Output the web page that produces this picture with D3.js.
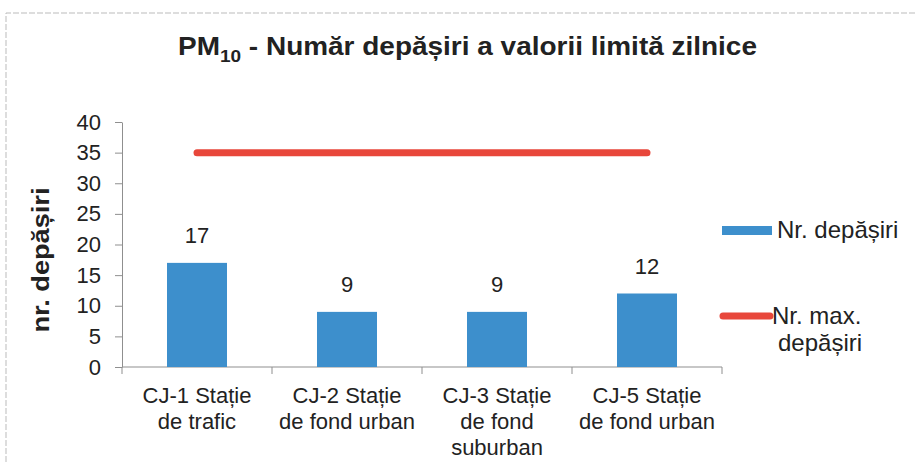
<!DOCTYPE html>
<html lang="ro">
  <head>
    <meta charset="UTF-8" />
    <title>PM10 - Număr depășiri</title>
    <script src="https://d3js.org/d3.v7.min.js"></script>
    <style>
      body {
        margin: 0;
        background: #fff;
        font-family: "Liberation Sans", Arial, sans-serif;
      }
      svg {
        display: block;
      }
      .axis path,
      .axis line {
        stroke: #8f8f8f;
      }
      .axis text {
        font-size: 22px;
        fill: #222;
        font-family: "Liberation Sans", Arial, sans-serif;
      }
    </style>
  </head>
  <body>
    <svg id="chart" width="915" height="462"></svg>

    <script>
      // data
      const stations = [
        ["CJ-1 Stație", "de trafic"],
        ["CJ-2 Stație", "de fond urban"],
        ["CJ-3 Stație", "de fond", "suburban"],
        ["CJ-5 Stație", "de fond urban"],
      ];
      const exceedances = [17, 9, 9, 12];
      const maxAllowed = [35, 35, 35, 35];
      const yTicks = [0, 5, 10, 15, 20, 25, 30, 35, 40];

      const barColor = "#3d8fcc";
      const lineColor = "#e8473b";

      const svg = d3.select("#chart");

      // page frame of the scan
      svg
        .append("path")
        .attr("d", "M6,462 V13 H915")
        .attr("fill", "none")
        .attr("stroke", "#bbb")
        .attr("stroke-width", 1)
        .attr("stroke-dasharray", "6,2");

      const plotLeft = 122,
        plotRight = 722,
        plotTop = 122,
        plotBottom = 367;

      const x = d3
        .scaleBand()
        .domain(d3.range(stations.length))
        .range([plotLeft, plotRight])
        .paddingInner(0.6)
        .paddingOuter(0.3);

      const xOuter = d3
        .scaleBand()
        .domain(d3.range(stations.length))
        .range([plotLeft, plotRight]);

      const y = d3.scaleLinear().domain([0, 40]).range([plotBottom, plotTop]);

      // title
      const title = svg
        .append("text")
        .attr("x", 178)
        .attr("y", 55)
        .attr("font-size", 25)
        .attr("font-weight", "bold")
        .attr("fill", "#222")
        .attr("textLength", 579)
        .attr("lengthAdjust", "spacingAndGlyphs");
      title.append("tspan").text("PM");
      title
        .append("tspan")
        .attr("font-size", 17)
        .attr("dy", 7)
        .text("10");
      title
        .append("tspan")
        .attr("dy", -7)
        .text(" - Număr depășiri a valorii limită zilnice");

      // y axis
      svg
        .append("g")
        .attr("class", "axis")
        .attr("transform", `translate(${plotLeft},0)`)
        .call(
          d3
            .axisLeft(y)
            .tickValues(yTicks)
            .tickSize(7)
            .tickPadding(14)
            .tickSizeOuter(0)
        );

      // x axis with ticks at category boundaries
      const xAxis = svg
        .append("g")
        .attr("class", "axis")
        .attr("transform", `translate(0,${plotBottom})`);
      xAxis
        .append("line")
        .attr("x1", plotLeft)
        .attr("x2", plotRight)
        .attr("stroke", "#8f8f8f");
      const bounds = d3.range(stations.length + 1).map((i) =>
        i < stations.length ? xOuter(i) : xOuter(i - 1) + xOuter.bandwidth()
      );
      xAxis
        .selectAll(".bt")
        .data(bounds)
        .join("line")
        .attr("x1", (d) => d)
        .attr("x2", (d) => d)
        .attr("y1", 0)
        .attr("y2", 7)
        .attr("stroke", "#8f8f8f");

      // category labels
      svg
        .selectAll(".cat")
        .data(stations)
        .join("text")
        .attr("class", "cat")
        .attr("text-anchor", "middle")
        .attr("font-size", 22)
        .attr("fill", "#222")
        .each(function (lines, i) {
          const t = d3.select(this);
          lines.forEach((l, j) => {
            t.append("tspan")
              .attr("x", xOuter(i) + xOuter.bandwidth() / 2)
              .attr("y", plotBottom + 36 + j * 26)
              .text(l);
          });
        });

      // y axis title
      svg
        .append("text")
        .attr("transform", `translate(41,260) rotate(-90)`)
        .attr("text-anchor", "middle")
        .attr("dy", "0.35em")
        .attr("font-size", 23)
        .attr("font-weight", "bold")
        .attr("fill", "#222")
        .attr("textLength", 145)
        .attr("lengthAdjust", "spacingAndGlyphs")
        .text("nr. depășiri");

      // bars
      svg
        .selectAll(".bar")
        .data(exceedances)
        .join("rect")
        .attr("class", "bar")
        .attr("x", (d, i) => x(i))
        .attr("width", x.bandwidth())
        .attr("y", (d) => y(d))
        .attr("height", (d) => y(0) - y(d))
        .attr("fill", barColor);

      svg
        .selectAll(".val")
        .data(exceedances)
        .join("text")
        .attr("class", "val")
        .attr("x", (d, i) => x(i) + x.bandwidth() / 2)
        .attr("y", (d) => y(d) - 20)
        .attr("text-anchor", "middle")
        .attr("font-size", 22)
        .attr("fill", "#222")
        .text((d) => d);

      // limit line through the category centres
      const line = d3
        .line()
        .x((d, i) => x(i) + x.bandwidth() / 2)
        .y((d) => y(d));
      svg
        .append("path")
        .datum(maxAllowed)
        .attr("d", line)
        .attr("fill", "none")
        .attr("stroke", lineColor)
        .attr("stroke-width", 7)
        .attr("stroke-linecap", "round");

      // legend
      const lg = svg.append("g").attr("transform", "translate(722,0)");
      lg.append("rect")
        .attr("x", 0)
        .attr("y", 226)
        .attr("width", 50)
        .attr("height", 9)
        .attr("fill", barColor);
      lg.append("text")
        .attr("x", 55)
        .attr("y", 238)
        .attr("font-size", 24)
        .attr("fill", "#222")
        .text("Nr. depășiri");
      lg.append("line")
        .attr("x1", 1)
        .attr("x2", 48)
        .attr("y1", 316)
        .attr("y2", 316)
        .attr("stroke", lineColor)
        .attr("stroke-width", 7)
        .attr("stroke-linecap", "round");
      const lt = lg.append("text").attr("font-size", 24).attr("fill", "#222");
      lt.append("tspan").attr("x", 50).attr("y", 324).text("Nr. max.");
      lt.append("tspan").attr("x", 56).attr("y", 351).text("depășiri");
    </script>
  </body>
</html>
